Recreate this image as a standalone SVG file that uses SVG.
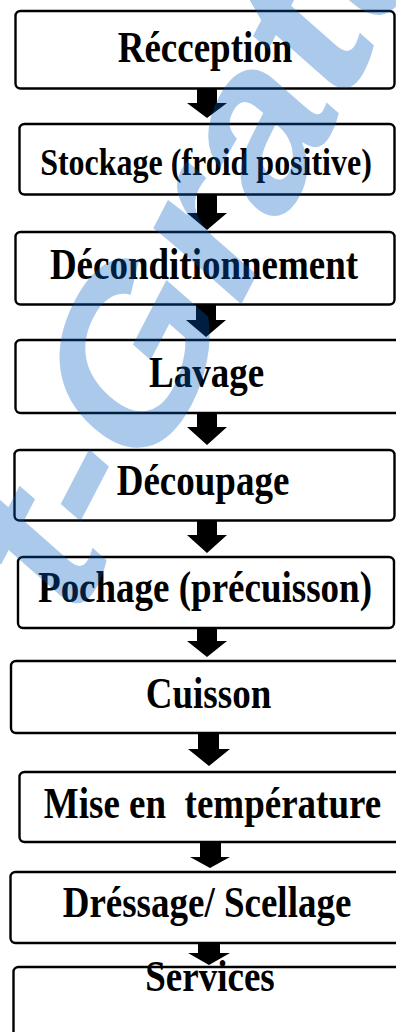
<svg xmlns="http://www.w3.org/2000/svg" width="396" height="1032" viewBox="0 0 396 1032">
<style>
.box{fill:none;stroke:#000;stroke-width:2.4}
.lbl{font-family:"Liberation Serif","Times New Roman",serif;font-weight:bold;font-size:37px;fill:#000;text-anchor:middle}
.arr{fill:#000}
.wm{font-family:"Liberation Sans",Arial,sans-serif;font-weight:bold;font-size:200px;fill:#005abe;fill-opacity:0.33}
</style>
<rect width="396" height="1032" fill="#fff"/>
<g id="n1"><rect class="box" x="15.5" y="11" width="379" height="77.5" rx="5"/><text class="lbl" transform="translate(205,62) scale(1,1.2)">Récception</text></g>
<g id="n2"><rect class="box" x="19.5" y="124" width="375" height="70.5" rx="5"/><text class="lbl" style="font-size:32px" transform="translate(206,175) scale(1,1.2)">Stockage (froid positive)</text></g>
<g id="n3"><rect class="box" x="15.5" y="232" width="379" height="72.5" rx="5"/><text class="lbl" transform="translate(204,279) scale(1,1.2)">Déconditionnement</text></g>
<g id="n4"><rect class="box" x="15.5" y="340" width="390" height="73" rx="5"/><text class="lbl" transform="translate(206.5,387) scale(1,1.2)">Lavage</text></g>
<g id="n5"><rect class="box" x="14.5" y="450" width="380" height="70.5" rx="5"/><text class="lbl" transform="translate(203,495) scale(1,1.2)">Découpage</text></g>
<g id="n6"><rect class="box" x="18" y="557" width="376" height="71" rx="5"/><text class="lbl" transform="translate(205,602) scale(1,1.2)">Pochage (précuisson)</text></g>
<g id="n7"><rect class="box" x="11" y="661" width="395" height="72" rx="5"/><text class="lbl" transform="translate(208.5,708) scale(1,1.2)">Cuisson</text></g>
<g id="n8"><rect class="box" x="19.5" y="772" width="390" height="70" rx="5"/><text class="lbl" xml:space="preserve" transform="translate(212.5,818) scale(1,1.2)">Mise en  température</text></g>
<g id="n9"><rect class="box" x="10.5" y="872" width="395" height="71" rx="5"/><text class="lbl" transform="translate(207,917) scale(1,1.2)">Dréssage/ Scellage</text></g>
<g id="n10"><rect class="box" x="13.5" y="967" width="395" height="90" rx="5"/><text class="lbl" transform="translate(210,991) scale(1,1.2)">Services</text></g>
<g id="connectors">
<path class="arr" d="M197,89 H217 V103 H227 L207,118 L187,103 H197 Z"/>
<path class="arr" d="M197,195 H217 V213 H227 L207,230 L187,213 H197 Z"/>
<path class="arr" d="M196,305 H216 V320 H226 L206,337 L186,320 H196 Z"/>
<path class="arr" d="M197,413 H217 V427 H227 L207,445 L187,427 H197 Z"/>
<path class="arr" d="M197,521 H217 V535 H227 L207,553 L187,535 H197 Z"/>
<path class="arr" d="M197,628 H217 V641 H227 L207,657 L187,641 H197 Z"/>
<path class="arr" d="M198,733 H219 V749 H230 L209,766 L188,749 H198 Z"/>
<path class="arr" d="M200,842 H221 V857 H230 L210,868 L190,857 H200 Z"/>
<path class="arr" d="M198,943 H220 V953 H230 L209,965 L188,953 H198 Z"/>
</g>
<text class="wm" transform="translate(5,-65) scale(1,1.3) translate(67,535) rotate(-56)">t-Gratuit</text>
</svg>
